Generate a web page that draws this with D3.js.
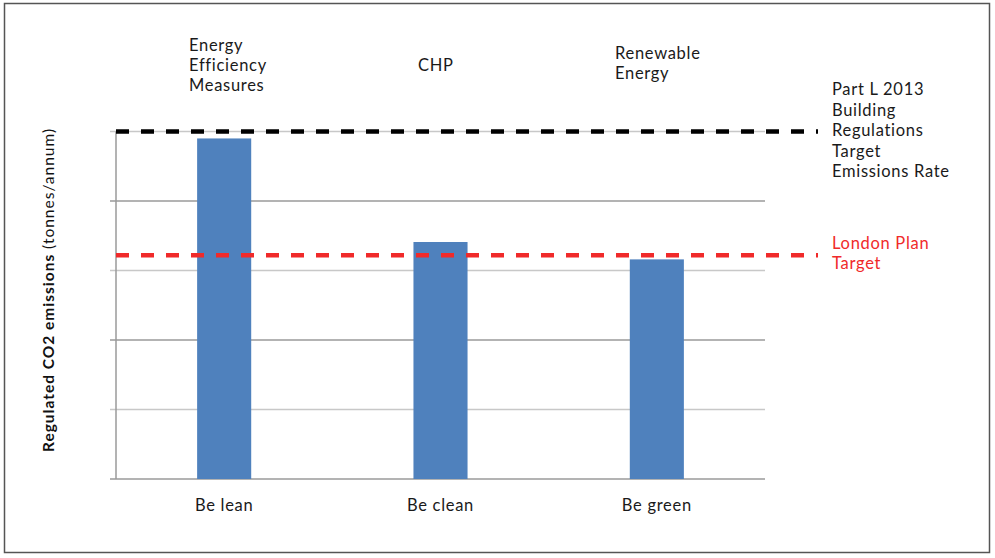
<!DOCTYPE html>
<html><head><meta charset="utf-8">
<script src="https://cdn.jsdelivr.net/npm/d3@7"></script>
<style>body{margin:0;background:#fff;} text{font-family:Lato,"Open Sans",sans-serif;}</style>
</head><body>
<svg id="c" width="995" height="558"></svg>
<script>
const categories = ["Be lean", "Be clean", "Be green"];
const values = [4.9, 3.41, 3.16];
const topLabels = [["Energy","Efficiency","Measures"], ["CHP"], ["Renewable","Energy"]];
const yTicks = [0, 1, 2, 3, 4, 5];
const buildingRegsTarget = 5.0;
const londonPlanTarget = 3.22;
const buildingRegsLabel = ["Part L 2013","Building","Regulations","Target","Emissions Rate"];
const londonPlanLabel = ["London Plan","Target"];

(function(){
const svg = d3.select("#c");
svg.append("rect").attr("x",4.5).attr("y",3.5).attr("width",985).attr("height",549)
  .attr("fill","none").attr("stroke","#555").attr("stroke-width",1.5);

const pLeft = 116, pRight = 765, pTop = 131.5, pBottom = 479;
const x = d3.scaleBand().domain(categories).range([pLeft,pRight]).paddingInner(0.75).paddingOuter(0.375);
const y = d3.scaleLinear().domain([0,5]).range([pBottom, pTop]);

const g = svg.append("g");
g.selectAll("line.grid").data(yTicks).join("line")
  .attr("x1",110).attr("x2",pRight)
  .attr("y1",d=>y(d)).attr("y2",d=>y(d))
  .attr("stroke",(d,i)=> (i%2===1) ? "#c8c8c8" : "#9a9a9a").attr("stroke-width",1.5);
g.append("line").attr("x1",pLeft).attr("x2",pLeft).attr("y1",y(5)).attr("y2",y(0))
  .attr("stroke","#9a9a9a").attr("stroke-width",1.5);

svg.selectAll("rect.bar").data(values).join("rect").attr("class","bar")
  .attr("x",(d,i)=>x(categories[i])).attr("width",x.bandwidth())
  .attr("y",d=>y(d)).attr("height",d=>y(0)-y(d)).attr("fill","#4f81bd");

svg.append("line").attr("x1",pLeft).attr("x2",818).attr("y1",y(buildingRegsTarget)).attr("y2",y(buildingRegsTarget))
  .attr("stroke","#000").attr("stroke-width",4.5).attr("stroke-dasharray","13,12");
svg.append("line").attr("x1",pLeft).attr("x2",818).attr("y1",y(londonPlanTarget)).attr("y2",y(londonPlanTarget))
  .attr("stroke","#f02a2a").attr("stroke-width",4.5).attr("stroke-dasharray","13,12");

const fs = 16.5, ls = 0.7;
svg.selectAll("text.cat").data(categories).join("text").attr("class","cat")
  .attr("x",d=>x(d)+x.bandwidth()/2).attr("y",511).attr("text-anchor","middle")
  .attr("font-size",fs).attr("letter-spacing",ls).attr("fill","#1a1a1a").text(d=>d);

const topX = [189, 418, 615];
const topY = [51, 71, 59];
topLabels.forEach((lines,i)=>{
  const t = svg.append("text").attr("x",topX[i]).attr("y",topY[i]).attr("font-size",fs).attr("letter-spacing",ls).attr("fill","#1a1a1a");
  lines.forEach((l,j)=> t.append("tspan").attr("x",topX[i]).attr("dy", j===0?0:20).text(l));
});

const t1 = svg.append("text").attr("x",832).attr("y",95).attr("font-size",fs).attr("letter-spacing",ls).attr("fill","#1a1a1a");
buildingRegsLabel.forEach((l,j)=> t1.append("tspan").attr("x",832).attr("dy", j===0?0:20.5).text(l));
const t2 = svg.append("text").attr("x",832).attr("y",249).attr("font-size",fs).attr("letter-spacing",ls).attr("fill","#f02a2a");
londonPlanLabel.forEach((l,j)=> t2.append("tspan").attr("x",832).attr("dy", j===0?0:20).text(l));

const yt = svg.append("text").attr("transform","translate(54,290) rotate(-90)")
  .attr("text-anchor","middle").attr("font-size",15.5).attr("letter-spacing",1).attr("fill","#111");
yt.append("tspan").attr("font-weight","bold").text("Regulated CO2 emissions ");
yt.append("tspan").text("(tonnes/annum)");
})();
</script>
</body></html>
